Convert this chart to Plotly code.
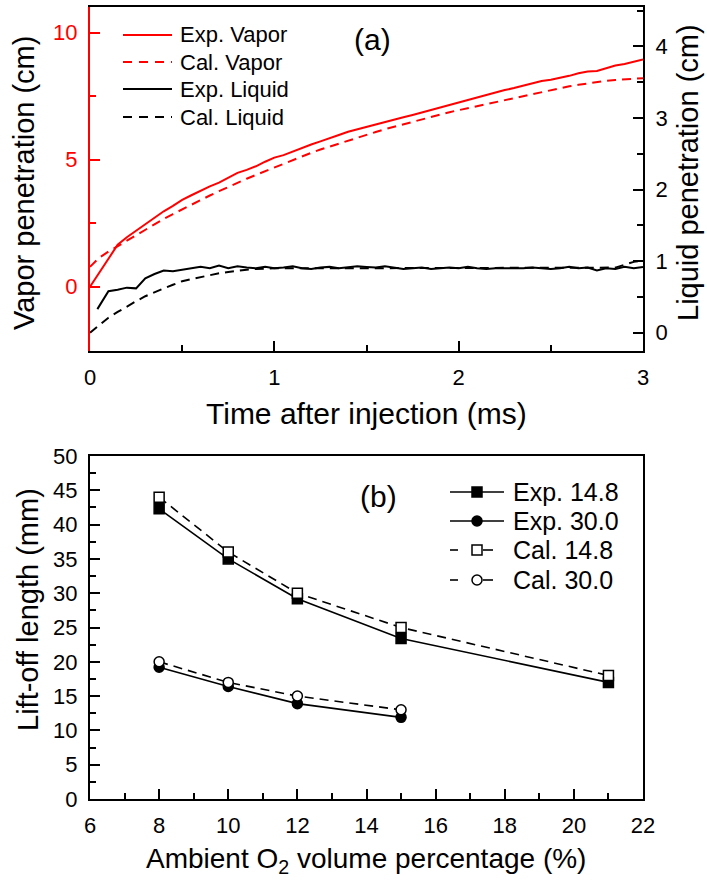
import plotly.graph_objects as go

W, H = 707, 882
FONT = "Liberation Sans, Arial, sans-serif"
RED = "#ff0000"

# ---------------- Panel (a) data ----------------
t_vapor = [0.00, 0.05, 0.10, 0.15, 0.20, 0.25, 0.30, 0.35, 0.40, 0.45, 0.50, 0.55, 0.60, 0.65, 0.70,
           0.75, 0.80, 0.85, 0.90, 0.95, 1.00, 1.05, 1.10, 1.15, 1.20, 1.25, 1.30, 1.35, 1.40, 1.45,
           1.50, 1.55, 1.60, 1.65, 1.70, 1.75, 1.80, 1.85, 1.90, 1.95, 2.00, 2.05, 2.10, 2.15, 2.20,
           2.25, 2.30, 2.35, 2.40, 2.45, 2.50, 2.55, 2.60, 2.65, 2.70, 2.75, 2.80, 2.85, 2.90, 2.95, 3.00]
exp_vapor = [0.00, 0.55, 1.10, 1.65, 1.95, 2.20, 2.45, 2.70, 2.97, 3.18, 3.42, 3.60, 3.79, 3.95, 4.10,
             4.30, 4.48, 4.60, 4.74, 4.92, 5.08, 5.18, 5.33, 5.47, 5.60, 5.72, 5.86, 5.97, 6.10, 6.20,
             6.30, 6.40, 6.50, 6.57, 6.67, 6.76, 6.86, 6.95, 7.05, 7.14, 7.26, 7.36, 7.46, 7.56, 7.65,
             7.74, 7.82, 7.92, 8.01, 8.10, 8.15, 8.22, 8.30, 8.40, 8.47, 8.49, 8.59, 8.71, 8.77, 8.86, 8.94]
cal_vapor = [0.78, 1.14, 1.38, 1.60, 1.82, 2.04, 2.26, 2.47, 2.67, 2.86, 3.05, 3.24, 3.42, 3.59, 3.76,
             3.93, 4.10, 4.25, 4.40, 4.55, 4.70, 4.85, 4.99, 5.13, 5.27, 5.40, 5.52, 5.64, 5.76, 5.87,
             5.98, 6.09, 6.20, 6.30, 6.40, 6.50, 6.60, 6.69, 6.78, 6.87, 6.95, 7.03, 7.11, 7.19, 7.27,
             7.35, 7.43, 7.51, 7.59, 7.67, 7.75, 7.82, 7.89, 7.95, 8.01, 8.06, 8.10, 8.14, 8.17, 8.19, 8.21]

t_exp_liquid = [0.04, 0.10, 0.15, 0.20, 0.25, 0.30, 0.35, 0.40, 0.45, 0.50, 0.55, 0.60, 0.65, 0.70,
                0.75, 0.80, 0.85, 0.90, 0.95, 1.00, 1.05, 1.10, 1.15, 1.20, 1.25, 1.30, 1.35, 1.40, 1.45,
                1.50, 1.55, 1.60, 1.65, 1.70, 1.75, 1.80, 1.85, 1.90, 1.95, 2.00, 2.05, 2.10, 2.15, 2.20,
                2.25, 2.30, 2.35, 2.40, 2.45, 2.50, 2.55, 2.60, 2.65, 2.70, 2.75, 2.80, 2.85, 2.90, 2.95, 3.00]
exp_liquid = [0.33, 0.58, 0.60, 0.63, 0.62, 0.76, 0.82, 0.87, 0.86, 0.88, 0.89, 0.92, 0.90, 0.94,
              0.90, 0.93, 0.91, 0.90, 0.92, 0.90, 0.91, 0.93, 0.90, 0.89, 0.91, 0.92, 0.90, 0.91, 0.93,
              0.92, 0.91, 0.93, 0.91, 0.89, 0.90, 0.91, 0.89, 0.90, 0.91, 0.90, 0.92, 0.90, 0.89, 0.90,
              0.90, 0.89, 0.90, 0.91, 0.90, 0.89, 0.90, 0.92, 0.90, 0.91, 0.87, 0.90, 0.89, 0.92, 0.90, 0.92]

t_cal_liquid = [0.00, 0.05, 0.10, 0.15, 0.20, 0.25, 0.30, 0.35, 0.40, 0.45, 0.50, 0.55, 0.60, 0.65,
                0.70, 0.75, 0.80, 0.85, 0.90, 1.00, 1.20, 1.40, 1.60, 1.80, 2.00, 2.20, 2.40, 2.60,
                2.80, 2.85, 2.90, 2.95, 3.00]
cal_liquid = [0.00, 0.11, 0.21, 0.29, 0.37, 0.44, 0.51, 0.57, 0.62, 0.67, 0.72, 0.75, 0.78, 0.81,
              0.83, 0.85, 0.87, 0.88, 0.89, 0.90, 0.90, 0.90, 0.90, 0.90, 0.90, 0.90, 0.90, 0.90,
              0.90, 0.91, 0.95, 0.99, 1.01]

# ---------------- Panel (b) data ----------------
o2_148 = [8, 10, 12, 15, 21]
exp_148 = [42.3, 35.0, 29.2, 23.4, 17.0]
cal_148 = [44.0, 36.0, 30.0, 25.0, 18.0]
o2_300 = [8, 10, 12, 15]
exp_300 = [19.2, 16.4, 13.9, 11.9]
cal_300 = [20.0, 17.0, 15.0, 13.0]

legend_a = ["Exp. Vapor", "Cal. Vapor", "Exp. Liquid", "Cal. Liquid"]
legend_b = ["Exp. 14.8", "Exp. 30.0", "Cal. 14.8", "Cal. 30.0"]


def px(x):
    return x / W


def py(y):
    return 1 - y / H


fig = go.Figure()

fig.add_trace(go.Scatter(x=t_vapor, y=exp_vapor, mode="lines", line=dict(color=RED, width=2),
                         xaxis="x", yaxis="y"))
fig.add_trace(go.Scatter(x=t_vapor, y=cal_vapor, mode="lines", line=dict(color=RED, width=2, dash="9px,6px"),
                         xaxis="x", yaxis="y"))
fig.add_trace(go.Scatter(x=t_cal_liquid, y=cal_liquid, mode="lines",
                         line=dict(color="black", width=2, dash="9px,6px"), xaxis="x", yaxis="y2"))
fig.add_trace(go.Scatter(x=t_exp_liquid, y=exp_liquid, mode="lines", line=dict(color="black", width=2),
                         xaxis="x", yaxis="y2"))

mk = dict(size=10, line=dict(color="black", width=1.5))
fig.add_trace(go.Scatter(x=o2_148, y=exp_148, mode="lines+markers", line=dict(color="black", width=1.6),
                         marker=dict(symbol="square", color="black", **mk), xaxis="x3", yaxis="y3"))
fig.add_trace(go.Scatter(x=o2_300, y=exp_300, mode="lines+markers", line=dict(color="black", width=1.6),
                         marker=dict(symbol="circle", color="black", **mk), xaxis="x3", yaxis="y3"))
fig.add_trace(go.Scatter(x=o2_148, y=cal_148, mode="lines+markers",
                         line=dict(color="black", width=1.6, dash="9px,6px"),
                         marker=dict(symbol="square", color="white", **mk), xaxis="x3", yaxis="y3"))
fig.add_trace(go.Scatter(x=o2_300, y=cal_300, mode="lines+markers",
                         line=dict(color="black", width=1.6, dash="9px,6px"),
                         marker=dict(symbol="circle", color="white", **mk), xaxis="x3", yaxis="y3"))

TICK = 22
tickfont = dict(family=FONT, size=TICK, color="black")
xdom = [px(90), px(643)]
common = dict(ticks="inside", ticklen=10, tickwidth=2, showline=True, linewidth=2,
              showgrid=False, zeroline=False, automargin=False, ticklabelstandoff=6)

fig.update_layout(
    width=W, height=H, margin=dict(l=0, r=0, t=0, b=0, autoexpand=False),
    paper_bgcolor="white", plot_bgcolor="white", showlegend=False,
    font=dict(family=FONT, color="black"),
    xaxis=dict(domain=xdom, anchor="y", range=[0, 3], tickvals=[0, 1, 2, 3], tickcolor="black",
               minor=dict(ticks="inside", ticklen=6, tickwidth=2, tickcolor="black", dtick=0.5, tick0=0),
               linecolor="black", mirror=True, tickfont=tickfont, **common),
    yaxis=dict(domain=[py(351), py(7)], anchor="x", range=[-2.53, 11.01], tickvals=[0, 5, 10], tickcolor=RED,
               minor=dict(ticks="inside", ticklen=6, tickwidth=2, tickcolor=RED, dtick=2.5, tick0=0),
               linecolor=RED, tickfont=dict(family=FONT, size=TICK, color=RED), **common),
    yaxis2=dict(overlaying="y", side="right", anchor="x", range=[-0.255, 4.55], tickvals=[0, 1, 2, 3, 4],
                tickcolor="black",
                minor=dict(ticks="inside", ticklen=6, tickwidth=2, tickcolor="black", dtick=0.5, tick0=0),
                linecolor="black", tickfont=tickfont, **common),
    xaxis3=dict(domain=xdom, anchor="y3", range=[6, 22], tickvals=list(range(6, 23, 2)), tickcolor="black",
                minor=dict(ticks="inside", ticklen=6, tickwidth=2, tickcolor="black", dtick=1, tick0=6),
                linecolor="black", mirror=True, tickfont=tickfont, **common),
    yaxis3=dict(domain=[py(799), py(456)], anchor="x3", range=[0, 50], tickvals=list(range(0, 51, 5)),
                tickcolor="black",
                minor=dict(ticks="inside", ticklen=6, tickwidth=2, tickcolor="black", dtick=2.5, tick0=0),
                linecolor="black", mirror=True, tickfont=tickfont, **common),
)

annotations = []
shapes = []


def text(x, y, s, size, angle=0, xanchor="center", color="black"):
    annotations.append(dict(x=px(x), y=py(y), xref="paper", yref="paper", text=s, showarrow=False,
                            textangle=angle, xanchor=xanchor, yanchor="middle",
                            font=dict(family=FONT, size=size, color=color)))


TITLE = 29
# axis titles
text(24, 183, "Vapor penetration (cm)", TITLE, angle=-90)
text(688, 173, "Liquid penetration (cm)", TITLE, angle=-90)
text(366, 413, "Time after injection (ms)", 30)
text(28, 610, "Lift-off length (mm)", TITLE, angle=-90)
text(366, 860, "Ambient O<sub>2</sub> volume percentage (%)", 28)

# panel labels
text(372, 39, "(a)", 30)
text(378, 496, "(b)", 30)

# legend (a)
leg_a_y = [35, 62, 89, 117]
leg_a_style = [(RED, "solid"), (RED, "9px,7px"), ("black", "solid"), ("black", "9px,7px")]
for lab, yy, (col, dsh) in zip(legend_a, leg_a_y, leg_a_style):
    shapes.append(dict(type="line", xref="paper", yref="paper", x0=px(123), x1=px(172), y0=py(yy), y1=py(yy),
                       line=dict(color=col, width=2, dash=dsh)))
    text(178, yy, lab, 22, xanchor="left")

# legend (b)
leg_b_y = [492, 521, 550, 580]
leg_b_mark = [("rect", "black", True), ("circle", "black", True), ("rect", "white", False), ("circle", "white", False)]
for lab, yy, (shp, fill, solid) in zip(legend_b, leg_b_y, leg_b_mark):
    if solid:
        shapes.append(dict(type="line", xref="paper", yref="paper", x0=px(450), x1=px(504), y0=py(yy), y1=py(yy),
                           line=dict(color="black", width=1.6)))
    else:
        for a, b in [(450, 458), (483, 493)]:
            shapes.append(dict(type="line", xref="paper", yref="paper", x0=px(a), x1=px(b), y0=py(yy), y1=py(yy),
                               line=dict(color="black", width=1.6)))
    shapes.append(dict(type=shp, xref="paper", yref="paper", x0=px(472), x1=px(482), y0=py(yy + 5), y1=py(yy - 5),
                       fillcolor=fill, line=dict(color="black", width=1.5)))
    text(511, yy, lab, 25, xanchor="left")

fig.update_layout(annotations=annotations, shapes=shapes)
fig.write_html("out.html")
